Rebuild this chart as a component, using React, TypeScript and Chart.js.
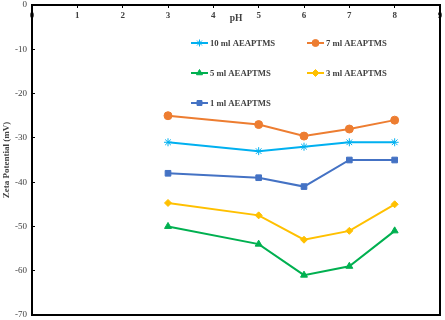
import React, { useEffect, useRef } from 'react';
import { Chart, registerables } from 'chart.js';
import { drawPoint } from 'chart.js/helpers';

Chart.register(...registerables);

// ---- Data ----
const phValues = [3, 5, 6, 7, 8];
const seriesLabels = ['10 ml AEAPTMS', '7 ml AEAPTMS', '5 ml AEAPTMS', '3 ml AEAPTMS', '1 ml AEAPTMS'];
const zeta10ml = [-31, -33, -32, -31, -31];
const zeta7ml = [-25, -27, -29.6, -28, -26];
const zeta5ml = [-50, -54, -61, -59, -51];
const zeta3ml = [-44.7, -47.5, -53, -51, -45];
const zeta1ml = [-38, -39, -41, -35, -35];
const xAxisMin = 0;
const xAxisMax = 9;
const yAxisMin = -70;
const yAxisMax = 0;

const seriesValues = [zeta10ml, zeta7ml, zeta5ml, zeta3ml, zeta1ml];
const seriesColors = ['#00B0F0', '#ED7D31', '#00B050', '#FFC000', '#4472C4'];
const seriesMarkers = ['star', 'circle', 'triangle', 'rectRot', 'rect'];
const seriesRadius = [4, 4, 4, 3.5, 4];

const SERIF = '"Liberation Serif", "Times New Roman", serif';
const TEXT = '#404040';

const insideLegend = {
  id: 'insideLegend',
  afterDatasetsDraw(chart: any) {
    const { ctx, chartArea } = chart;
    ctx.save();
    chart.data.datasets.forEach((ds: any, i: number) => {
      const col = i % 2;
      const row = Math.floor(i / 2);
      const x = chartArea.left + (col ? 275 : 159);
      const y = chartArea.top + 38 + row * 30;
      ctx.strokeStyle = ds.borderColor;
      ctx.lineWidth = 2;
      ctx.beginPath();
      ctx.moveTo(x, y);
      ctx.lineTo(x + 17, y);
      ctx.stroke();
      ctx.fillStyle = ds.pointBackgroundColor;
      ctx.strokeStyle = ds.pointBorderColor;
      ctx.lineWidth = 1;
      drawPoint(ctx, { pointStyle: ds.pointStyle, radius: 3.5, borderWidth: 1, rotation: 0 }, x + 8.5, y);
      ctx.fillStyle = TEXT;
      ctx.font = `bold 8.7px ${SERIF}`;
      ctx.textAlign = 'left';
      ctx.textBaseline = 'middle';
      ctx.fillText(ds.label, x + 19, y + 0.5);
    });
    ctx.restore();
  },
};

const noHPad = (s: any) => { s.paddingLeft = 0; s.paddingRight = 0; };
const noVPad = (s: any) => { s.paddingTop = 0; s.paddingBottom = 0; };

export default function App() {
  const canvasRef = useRef<HTMLCanvasElement | null>(null);

  useEffect(() => {
    document.body.style.margin = '0';
    const canvas = canvasRef.current;
    if (!canvas) return;
    const datasets = seriesLabels.map((label, i) => ({
      label,
      data: phValues.map((x, j) => ({ x, y: seriesValues[i][j] })),
      borderColor: seriesColors[i],
      backgroundColor: seriesColors[i],
      pointBackgroundColor: seriesColors[i],
      pointBorderColor: seriesColors[i],
      pointBorderWidth: 1,
      pointStyle: seriesMarkers[i],
      pointRadius: seriesRadius[i],
      borderWidth: 2,
      tension: 0,
    }));
    const chart = new Chart(canvas, {
      type: 'line',
      data: { datasets },
      plugins: [insideLegend],
      options: {
        animation: false,
        responsive: false,
        devicePixelRatio: 1,
        layout: { padding: 0 },
        plugins: { legend: { display: false }, tooltip: { enabled: false } },
        scales: {
          x: {
            type: 'linear',
            position: 'top',
            min: xAxisMin,
            max: xAxisMax,
            ticks: {
              stepSize: 1,
              mirror: true,
              padding: 5,
              color: TEXT,
              font: { family: SERIF, size: 9, weight: 'bold' },
            },
            grid: { drawOnChartArea: false, drawTicks: true, tickLength: -3, color: '#000' },
            border: { display: true, color: '#000', width: 2 },
            title: {
              display: true,
              text: 'pH',
              color: TEXT,
              padding: { top: 12, bottom: 0 },
              font: { family: SERIF, size: 9.5, weight: 'bold' },
            },
            afterFit: (s: any) => { s.height = 4; noHPad(s); },
          },
          x2: {
            type: 'linear',
            position: 'bottom',
            min: xAxisMin,
            max: xAxisMax,
            ticks: { display: false },
            grid: { display: false },
            border: { display: true, color: '#000', width: 2 },
            afterFit: (s: any) => { s.height = 4; noHPad(s); },
          },
          y: {
            type: 'linear',
            position: 'left',
            min: yAxisMin,
            max: yAxisMax,
            ticks: {
              stepSize: 10,
              padding: 8,
              color: TEXT,
              font: { family: SERIF, size: 9 },
            },
            grid: { drawOnChartArea: false, drawTicks: true, tickLength: -3, color: '#000' },
            border: { display: true, color: '#000', width: 2 },
            title: {
              display: true,
              text: 'Zeta Potential (mV)',
              color: TEXT,
              padding: { top: 1, bottom: 0 },
              font: { family: SERIF, size: 9, weight: 'bold' },
            },
            afterFit: (s: any) => { s.width = 32; noVPad(s); },
          },
          y2: {
            type: 'linear',
            position: 'right',
            min: yAxisMin,
            max: yAxisMax,
            ticks: { display: false },
            grid: { display: false },
            border: { display: true, color: '#000', width: 2 },
            afterFit: (s: any) => { s.width = 4; noVPad(s); },
          },
        },
      } as any,
    });
    return () => chart.destroy();
  }, []);

  return (
    <div style={{ width: 445, height: 320, position: 'relative' }}>
      <canvas ref={canvasRef} width={445} height={320} />
    </div>
  );
}
